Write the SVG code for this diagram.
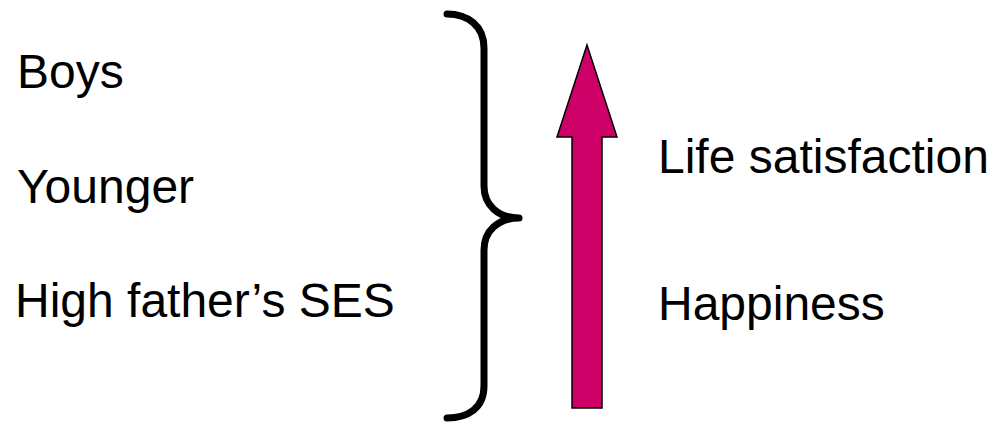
<svg xmlns="http://www.w3.org/2000/svg" width="994" height="424" viewBox="0 0 994 424">
  <style>
    .label { font-family: "Liberation Sans", Arial, sans-serif; font-size: 48px; fill: #000; }
    .brace { fill: none; stroke: #000; stroke-width: 7; stroke-linecap: round; stroke-linejoin: round; }
    .arrow { fill: #CC0066; stroke: #000; stroke-width: 1.5; stroke-linejoin: miter; }
  </style>
  <rect width="994" height="424" fill="#fff"/>

  <!-- factors on the left -->
  <g id="factor-boys"><text class="label" x="17" y="88">Boys</text></g>
  <g id="factor-younger"><text class="label" x="17" y="203">Younger</text></g>
  <g id="factor-ses"><text class="label" x="15" y="317">High father’s SES</text></g>

  <!-- grouping brace and upward arrow -->
  <g id="connectors">
    <path class="brace" d="M 447 14 C 468 14 484 26 484 48 L 484 186 C 484 205 498 218 519 218 C 498 218 484 231 484 250 L 484 386 C 484 408 468 418 447 418"/>
    <path class="arrow" d="M 587 45 L 617 137 L 602 137 L 602 408 L 572 408 L 572 137 L 557 137 Z"/>
  </g>

  <!-- outcomes on the right -->
  <g id="outcome-life"><text class="label" x="658" y="173">Life satisfaction</text></g>
  <g id="outcome-happiness"><text class="label" x="658" y="320">Happiness</text></g>
</svg>
